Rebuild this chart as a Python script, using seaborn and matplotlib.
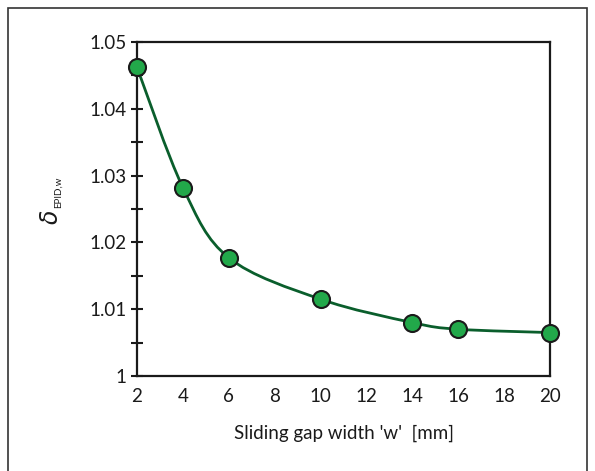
import matplotlib
matplotlib.use("Agg")
import matplotlib.pyplot as plt
from matplotlib.path import Path
from matplotlib.patches import PathPatch, Rectangle
import numpy as np
import pandas as pd
import seaborn as sns

sns.set_style("white")
plt.rcParams['font.family'] = ['Lato', 'DejaVu Sans']

# data
gap_width = [2, 4, 6, 10, 14, 16, 20]
delta_epid = [1.0462, 1.0282, 1.0177, 1.0115, 1.0080, 1.0070, 1.0065]
x_ticks = [2, 4, 6, 8, 10, 12, 14, 16, 18, 20]
y_ticks = [1, 1.01, 1.02, 1.03, 1.04, 1.05]
y_tick_labels = ['1', '1.01', '1.02', '1.03', '1.04', '1.05']

df = pd.DataFrame({'w': gap_width, 'delta': delta_epid})

line_col = '#0a5e2c'
dot_col = '#22a84a'
ink = '#1a1a1a'

fig = plt.figure(figsize=(5.95, 4.71), dpi=100)
ax = fig.add_axes([0.2303, 0.2017, 0.6941, 0.7091])

# smooth line through the points (Bezier segments, like a spreadsheet "smoothed line")
x = np.array(gap_width, dtype=float)
y = np.array(delta_epid, dtype=float)
verts = [(x[0], y[0])]
codes = [Path.MOVETO]
n = len(x)
for i in range(n - 1):
    p0 = (x[i - 1], y[i - 1]) if i > 0 else (x[i], y[i])
    p1 = (x[i], y[i])
    p2 = (x[i + 1], y[i + 1])
    p3 = (x[i + 2], y[i + 2]) if i + 2 < n else (x[i + 1], y[i + 1])
    c1 = (p1[0] + (p2[0] - p0[0]) / 6, p1[1] + (p2[1] - p0[1]) / 6)
    c2 = (p2[0] - (p3[0] - p1[0]) / 6, p2[1] - (p3[1] - p1[1]) / 6)
    verts += [c1, c2, p2]
    codes += [Path.CURVE4] * 3
ax.add_patch(PathPatch(Path(verts, codes), fill=False, edgecolor=line_col, lw=2, zorder=2))

sns.scatterplot(data=df, x='w', y='delta', ax=ax, s=150, color=dot_col,
                edgecolor=ink, linewidth=1.5, zorder=3, clip_on=False)

ax.set_xlim(2, 20)
ax.set_ylim(1, 1.05)
ax.set_xticks(x_ticks)
ax.set_yticks(y_ticks)
ax.set_yticklabels(y_tick_labels)
ax.set_yticks([1.005, 1.015, 1.025, 1.035, 1.045], minor=True)
ax.tick_params(axis='y', which='both', direction='inout', length=9, width=1.5,
               left=True, labelsize=13.5, pad=3, colors=ink)
ax.tick_params(axis='x', length=0, labelsize=13.5, pad=9, colors=ink)

for s in ax.spines.values():
    s.set_visible(True)
    s.set_color(ink)
    s.set_linewidth(1.6)

ax.set_xlabel("Sliding gap width 'w'  [mm]", fontsize=13.5, labelpad=14, color=ink)
ax.set_ylabel('')

# y label: italic delta with a small upright subscript
fig.text(51 / 595, 1 - 210 / 471, r'$\delta$', rotation=90, fontsize=17,
         ha='center', va='top', color=ink)
fig.text(58 / 595, 1 - 208 / 471, 'EPID,w', rotation=90, fontsize=7,
         ha='center', va='bottom', color=ink)

# outer frame
fig.patches.append(Rectangle((0.0135, -0.05), 0.973, 1.033, transform=fig.transFigure,
                             fill=False, edgecolor='#333333', lw=1.2))

fig.savefig('out.png', dpi=100)
